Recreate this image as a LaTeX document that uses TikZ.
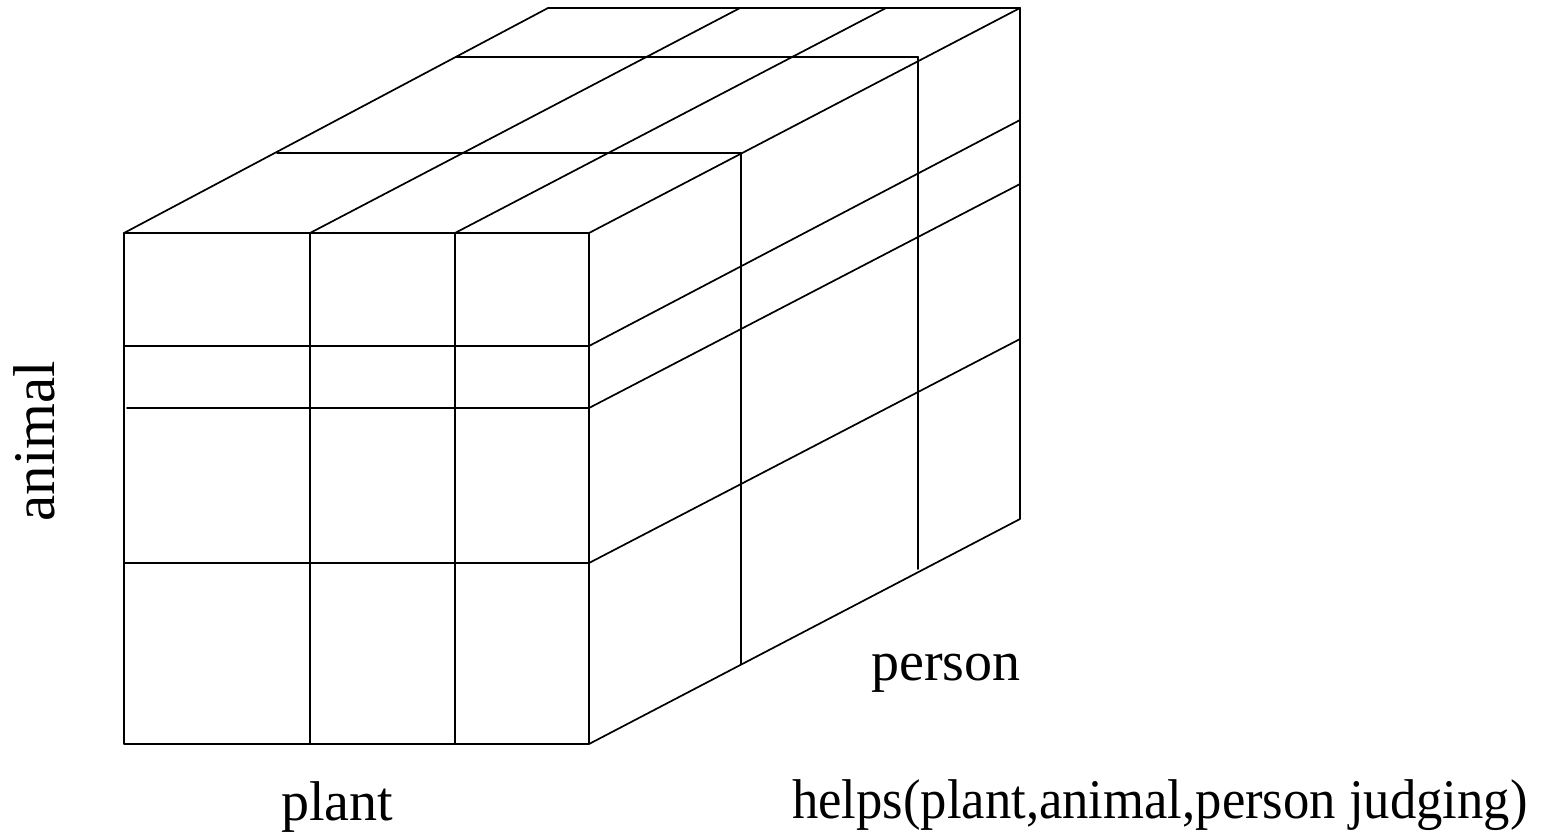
\documentclass[tikz,border=0pt]{standalone}
\usepackage{fontspec}
\setmainfont{Liberation Serif}
\begin{document}
\begin{tikzpicture}[x=1pt,y=-1pt,
  edge/.style={line width=1.7pt,line cap=round,line join=round},
  lbl/.style={font=\fontsize{56}{66}\selectfont,inner sep=0pt}]
\useasboundingbox (0,0) rectangle (1546,836);
% front face corners
\coordinate (ftl) at (124,233);
\coordinate (ftr) at (589,233);
\coordinate (fbl) at (124,744);
\coordinate (fbr) at (589,744);
% back corners
\coordinate (btl) at (548,8);
\coordinate (btr) at (1020,8);
\coordinate (bbr) at (1020,519);
% front face
\draw[edge] (ftl) rectangle (fbr);
\draw[edge] (310,233) -- (310,744);
\draw[edge] (455,233) -- (455,744);
\draw[edge] (124,346) -- (589,346);
\draw[edge] (127,408) -- (589,408);
\draw[edge] (124,563) -- (589,563);
% top face
\draw[edge] (ftl) -- (btl) -- (btr);
\draw[edge] (310,233) -- (740,8);
\draw[edge] (455,233) -- (886,8);
\draw[edge] (ftr) -- (btr);
\draw[edge] (456,57) -- (918,57);
\draw[edge] (277,153) -- (741,153);
% right face
\draw[edge] (btr) -- (bbr) -- (fbr);
\draw[edge] (589,346) -- (1020,120);
\draw[edge] (589,408) -- (1020,184);
\draw[edge] (589,563) -- (1020,339);
\draw[edge] (741,153) -- (741,664);
\draw[edge] (918,57) -- (918,569);
% labels
\node[lbl,anchor=base] (plant) at (337,820) {plant};
\node[lbl,anchor=base west] (person) at (871,680) {person};
\node[lbl,font=\fontsize{59}{69}\selectfont,anchor=base,rotate=90] (animal) at (54,441) {animal};
\node[lbl,anchor=base west] (helps) at (792,818) {\scalebox{0.94}[1]{helps(plant,animal,person judging)}};
\end{tikzpicture}
\end{document}
